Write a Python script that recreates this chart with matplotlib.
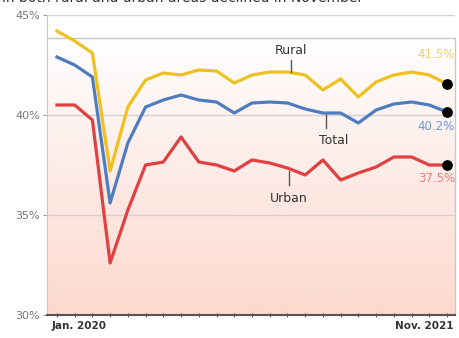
import numpy as np
import matplotlib.pyplot as plt
from matplotlib.colors import LinearSegmentedColormap

# monthly values, Jan 2020 .. Nov 2021
months = list(range(23))
rural = [44.2, 43.7, 43.1, 37.2, 40.4, 41.75, 42.1, 42.0, 42.25, 42.2, 41.6, 42.0,
         42.15, 42.15, 42.0, 41.25, 41.8, 40.9, 41.65, 42.0, 42.15, 42.0, 41.55]
total = [42.9, 42.5, 41.9, 35.6, 38.6, 40.4, 40.75, 41.0, 40.75, 40.65, 40.1, 40.6,
         40.65, 40.6, 40.3, 40.1, 40.1, 39.6, 40.25, 40.55, 40.65, 40.5, 40.15]
urban = [40.5, 40.5, 39.75, 32.6, 35.25, 37.5, 37.65, 38.9, 37.65, 37.5, 37.2, 37.75,
         37.6, 37.35, 37.0, 37.75, 36.75, 37.1, 37.4, 37.9, 37.9, 37.5, 37.5]
end_labels = ['41.5%', '40.2%', '37.5%']
yticks = [30, 35, 40, 45]

c_rural = '#f0c020'
c_total = '#4f7cc0'
c_urban = '#e04040'

fig = plt.figure(figsize=(4.59, 3.38), dpi=100)
ax = fig.add_axes([47/459, 23/338, 408/459, 300/338])
xmin, xmax = -0.56, 22.45
ax.set_xlim(xmin, xmax)
ax.set_ylim(30, 45)

# gradient background box
box_top = 43.85
cmap = LinearSegmentedColormap.from_list('bg', ['#fdd9cd', '#fdebe6', '#ffffff'])
grad = np.linspace(0, 1, 200).reshape(-1, 1)
ax.imshow(grad, extent=[xmin, xmax, 30, box_top], origin='lower', cmap=cmap,
          aspect='auto', zorder=0)
ax.plot([xmin, xmax, xmax], [box_top, box_top, 30], color='#c8c8c8', lw=1,
        clip_on=False, zorder=1)

for y in [35, 40, 45]:
    ax.axhline(y, color='#d8d0ce', lw=1, zorder=1)

ax.plot(months, rural, color=c_rural, lw=2.3, zorder=3)
ax.plot(months, total, color=c_total, lw=2.3, zorder=3)
ax.plot(months, urban, color=c_urban, lw=2.3, zorder=3)
ax.scatter([22, 22, 22], [rural[-1], total[-1], urban[-1]], s=45, color='black',
           zorder=5, clip_on=False)

# end value labels
ax.text(21.4, 43.0, end_labels[0], color='#e8d070', fontsize=8.5,
        ha='center', va='center')
ax.text(21.4, 39.45, end_labels[1], color='#6f9ad0', fontsize=8.5,
        ha='center', va='center')
ax.text(21.4, 36.8, end_labels[2], color='#e88080', fontsize=8.5,
        ha='center', va='center')

# series labels with leader lines
ax.plot([13.2, 13.2], [42.15, 42.75], color='#555555', lw=1, zorder=4)
ax.text(13.2, 43.2, 'Rural', fontsize=9, color='#333333', ha='center', va='center')
ax.plot([15.2, 15.2], [40.05, 39.35], color='#555555', lw=1, zorder=4)
ax.text(15.6, 38.7, 'Total', fontsize=9, color='#333333', ha='center', va='center')
ax.plot([13.1, 13.1], [37.2, 36.5], color='#555555', lw=1, zorder=4)
ax.text(13.1, 35.8, 'Urban', fontsize=9, color='#333333', ha='center', va='center')

# axes styling
for s in ['top', 'right', 'bottom']:
    ax.spines[s].set_visible(False)
ax.spines['left'].set_color('#c8c8c8')
ax.axhline(30, color='#555555', lw=1.5, zorder=4, clip_on=False)
ax.set_yticks(yticks)
ax.set_yticklabels([f'{v}%' for v in yticks], color='#777777', fontsize=8)
ax.tick_params(axis='y', length=3, color='#999999', pad=2)
ax.set_xticks(np.arange(0, 23))
ax.set_xticklabels([])
ax.tick_params(axis='x', length=3, direction='inout', color='#555555')
ax.text(-0.3, 29.72, 'Jan. 2020', fontsize=7.5, fontweight='bold', color='#333333',
        ha='left', va='top')
ax.text(22.35, 29.72, 'Nov. 2021', fontsize=7.5, fontweight='bold', color='#333333',
        ha='right', va='top')

# subtitle cut off at the top edge
fig.text(0.005, 1.007, 'in both rural and urban areas declined in November',
         fontsize=10, color='#333333', ha='left', va='center')

fig.savefig('out.png', dpi=100)
